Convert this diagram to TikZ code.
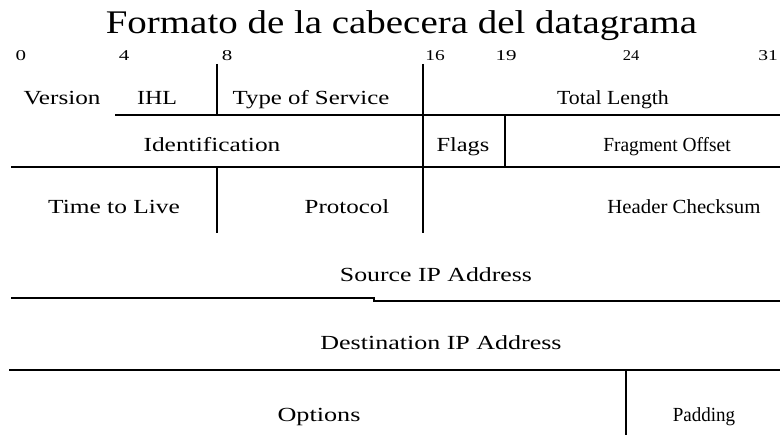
\documentclass[tikz,border=0pt]{standalone}
\usepackage{fontspec}
\setmainfont{Liberation Serif}
\usepackage{graphicx}
% horizontally stretched text
\newcommand{\hs}[2]{\scalebox{#1}[1]{#2}}

\begin{document}
\begin{tikzpicture}[x=1pt,y=-1pt,
  rule/.style={line width=1.3pt, black},
  fld/.style={anchor=base, inner sep=0pt, font=\fontsize{20}{24}\selectfont},
  bitno/.style={anchor=base, inner sep=0pt, font=\fontsize{15}{18}\selectfont},
  ttl/.style={anchor=base, inner sep=0pt, font=\fontsize{33}{40}\selectfont},
]
\useasboundingbox (0,0) rectangle (780,435);

% title
\node[ttl] (title) at (401.5,34) {\hs{1.18}{Formato de la cabecera del datagrama}};

% bit numbers
\node[bitno] (b0)  at (21,61)  {\hs{1.4}{0}};
\node[bitno] (b4)  at (124,61) {\hs{1.4}{4}};
\node[bitno] (b8)  at (227,61) {\hs{1.4}{8}};
\node[bitno] (b16) at (435,61) {\hs{1.3}{16}};
\node[bitno] (b19) at (506,61) {\hs{1.4}{19}};
\node[bitno] (b24) at (631,61) {\hs{1.1}{24}};
\node[bitno] (b31) at (768,61) {\hs{1.3}{31}};

% grid lines
\draw[rule] (217,64) -- (217,115);
\draw[rule] (423,64) -- (423,233);
\draw[rule] (115,115) -- (780,115);
\draw[rule] (505,115) -- (505,167);
\draw[rule] (11,167) -- (780,167);
\draw[rule] (217,167) -- (217,233);
\draw[rule] (11,298) -- (374,298) -- (374,301) -- (780,301);
\draw[rule] (9,370) -- (780,370);
\draw[rule] (626,370) -- (626,436);

% field names
\node[fld] (version) at (62,105)  {\hs{1.26}{Version}};
\node[fld] (ihl)     at (157,105) {\hs{1.2}{IHL}};
\node[fld] (tos)     at (311,105) {\hs{1.24}{Type of Service}};
\node[fld] (totlen)  at (613,105) {\hs{1.09}{Total Length}};
\node[fld] (ident)   at (212,152) {\hs{1.27}{Identification}};
\node[fld] (flags)   at (463,152) {\hs{1.22}{Flags}};
\node[fld] (fragoff) at (667,152) {\hs{0.97}{Fragment Offset}};
\node[fld] (ttlive)  at (114,214) {\hs{1.27}{Time to Live}};
\node[fld] (proto)   at (347,214) {\hs{1.25}{Protocol}};
\node[fld] (hcs)     at (684,214) {\hs{1.04}{Header Checksum}};
\node[fld] (src)     at (436,282) {\hs{1.29}{Source IP Address}};
\node[fld] (dst)     at (441,350) {\hs{1.3}{Destination IP Address}};
\node[fld] (opts)    at (319,422) {\hs{1.31}{Options}};
\node[fld] (pad)     at (704,422) {\hs{0.95}{Padding}};
\end{tikzpicture}
\end{document}
